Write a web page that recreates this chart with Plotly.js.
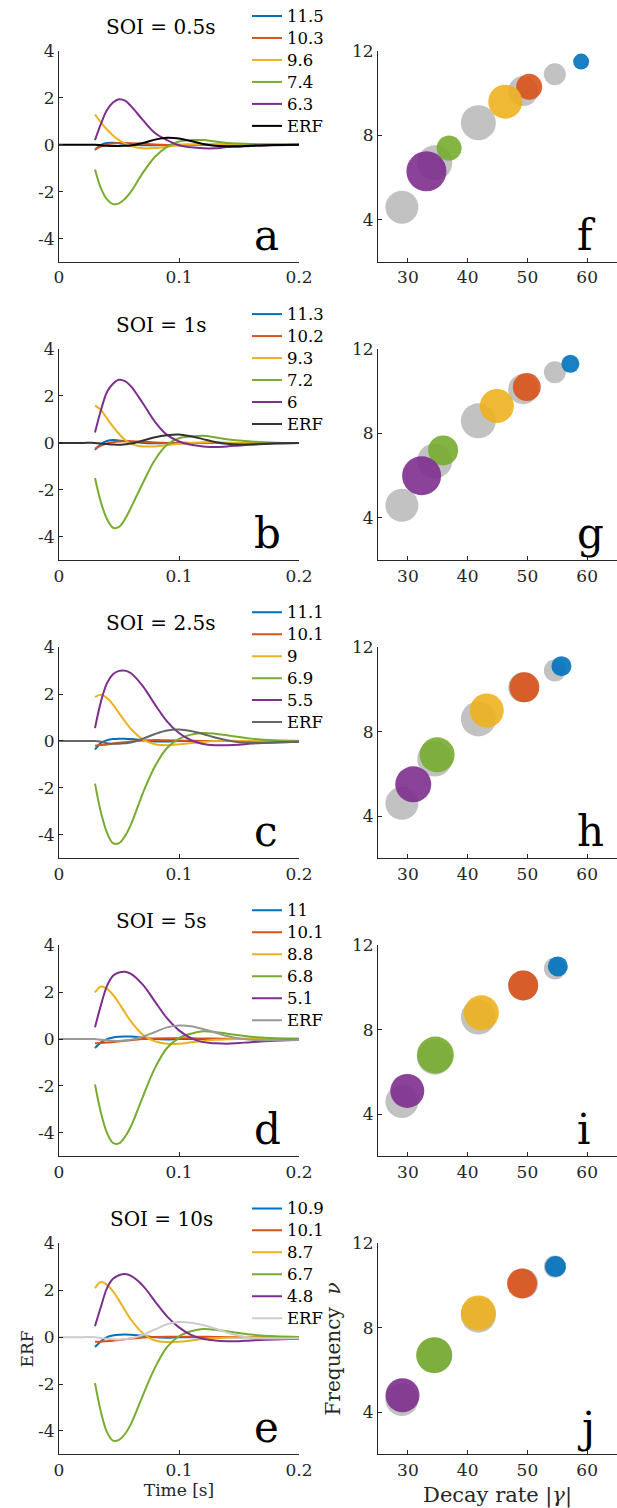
<!DOCTYPE html>
<html>
<head>
<meta charset="utf-8">
<script src="https://cdn.plot.ly/plotly-3.0.1.min.js"></script>
<style>
  html, body { margin: 0; padding: 0; background: #fff; }
  #chart { width: 617px; height: 1508px; }
</style>
</head>
<body>
<div id="chart"></div>
<script>
// ---- time bases (s) ----
const tMode = [0.03, 0.035, 0.04, 0.045, 0.05, 0.055, 0.06, 0.07, 0.08, 0.09, 0.1, 0.11, 0.12, 0.13, 0.14, 0.15, 0.16, 0.18, 0.2];
const tErf = [0, 0.01, 0.02].concat(tMode);

// ---- SOI labels ----
const soiLabels = ['SOI = 0.5s', 'SOI = 1s', 'SOI = 2.5s', 'SOI = 5s', 'SOI = 10s'];
const leftLetters = ['a', 'b', 'c', 'd', 'e'];
const rightLetters = ['f', 'g', 'h', 'i', 'j'];

// ---- axis tick labels ----
const erfTicks = [-4, -2, 0, 2, 4];
const erfTickText = ['-4', '-2', '0', '2', '4'];
const timeTicks = [0, 0.1, 0.2];
const decayTicks = [30, 40, 50, 60];
const freqTicks = [4, 8, 12];

// ---- mode frequencies (legend labels and bubble y) ----
const freqA = [11.5, 10.3, 9.6, 7.4, 6.3];
const freqB = [11.3, 10.2, 9.3, 7.2, 6];
const freqC = [11.1, 10.1, 9, 6.9, 5.5];
const freqD = [11, 10.1, 8.8, 6.8, 5.1];
const freqE = [10.9, 10.1, 8.7, 6.7, 4.8];

// ---- mode decay rates |gamma| (bubble x) ----
const decayA = [59.0, 50.3, 46.3, 36.9, 33.1];
const decayB = [57.2, 49.9, 44.9, 35.9, 32.3];
const decayC = [55.7, 49.5, 43.2, 34.9, 30.9];
const decayD = [55.1, 49.3, 42.3, 34.6, 29.9];
const decayE = [54.7, 49.1, 41.8, 34.4, 29.1];

// ---- mode amplitudes (bubble diameter) ----
const ampA = [16, 26, 34, 25, 40];
const ampB = [18, 28, 34, 30, 39];
const ampC = [20, 30, 34, 35, 36];
const ampD = [20, 30, 35, 37, 34];
const ampE = [21, 30, 35, 36, 34];

// ---- reference modes (grey bubbles) ----
const refDecay = [29, 34.5, 41.8, 49.3, 54.6];
const refFreq = [4.6, 6.7, 8.6, 10.1, 10.9];
const refAmp = [33, 35, 35, 30, 22];

// ---- mode time courses, SOI = 0.5s ----
const aM1 = [-0.22, 0.0, 0.08, 0.09, 0.07, 0.04, 0.01, -0.02, -0.02, -0.01, 0, 0, 0, 0, 0, 0, 0, 0, 0];
const aM2 = [-0.18, -0.08, 0.0, 0.05, 0.08, 0.08, 0.07, 0.04, 0.01, -0.01, -0.02, -0.01, 0, 0, 0, 0, 0, 0, 0];
const aM3 = [1.29, 0.95, 0.65, 0.4, 0.2, 0.06, -0.05, -0.15, -0.14, -0.08, -0.02, 0.01, 0.02, 0.01, 0, 0, 0, 0, 0];
const aM4 = [-1.05, -1.86, -2.33, -2.53, -2.5, -2.3, -2.0, -1.19, -0.51, -0.09, 0.14, 0.2, 0.2, 0.14, 0.08, 0.05, 0.03, 0.01, 0];
const aM5 = [0.2, 0.9, 1.48, 1.8, 1.94, 1.88, 1.65, 1.05, 0.5, 0.2, -0.02, -0.11, -0.15, -0.15, -0.1, -0.08, -0.05, -0.02, 0];
const aErf = [0, 0, 0, 0, -0.02, -0.04, -0.05, -0.05, -0.04, -0.03, 0.08, 0.22, 0.3, 0.27, 0.16, 0.03, -0.04, -0.06, -0.06, -0.04, -0.01, 0];

// ---- SOI = 1s ----
const bM1 = [-0.3, -0.05, 0.08, 0.12, 0.1, 0.08, 0.05, 0, -0.02, -0.01, 0, 0, 0, 0, 0, 0, 0, 0, 0];
const bM2 = [-0.25, -0.12, -0.02, 0.03, 0.06, 0.07, 0.07, 0.05, 0.02, 0, -0.02, -0.01, 0, 0, 0, 0, 0, 0, 0];
const bM3 = [1.6, 1.4, 1.04, 0.69, 0.38, 0.13, -0.04, -0.15, -0.15, -0.1, -0.04, 0, 0.03, 0.02, 0.01, 0, 0, 0, 0];
const bM4 = [-1.5, -2.55, -3.25, -3.62, -3.58, -3.25, -2.76, -1.7, -0.72, -0.08, 0.2, 0.27, 0.3, 0.24, 0.15, 0.1, 0.06, 0.01, 0];
const bM5 = [0.44, 1.4, 2.17, 2.52, 2.69, 2.63, 2.41, 1.68, 0.9, 0.34, 0.06, -0.08, -0.15, -0.18, -0.15, -0.11, -0.07, -0.02, 0];
const bErf = [0, 0, 0, 0, -0.03, -0.05, -0.07, -0.08, -0.06, -0.03, 0.1, 0.24, 0.33, 0.36, 0.28, 0.16, 0.04, -0.04, -0.07, -0.07, -0.03, -0.01];

// ---- SOI = 2.5s ----
const cM1 = [-0.37, -0.08, 0.03, 0.08, 0.1, 0.09, 0.08, 0.03, -0.02, -0.02, 0, 0, 0, 0, 0, 0, 0, 0, 0];
const cM2 = [-0.2, -0.17, -0.15, -0.11, -0.08, -0.05, -0.02, 0.02, 0.04, 0.03, 0.02, 0.01, 0, 0, 0, 0, 0, 0, 0];
const cM3 = [1.87, 1.97, 1.83, 1.55, 1.19, 0.84, 0.51, 0.06, -0.14, -0.18, -0.14, -0.09, -0.04, 0, 0.01, 0, 0, 0, 0];
const cM4 = [-1.82, -3.06, -3.91, -4.36, -4.36, -4.06, -3.56, -2.21, -1.08, -0.3, 0.09, 0.27, 0.34, 0.31, 0.24, 0.17, 0.1, 0.03, 0];
const cM5 = [0.55, 1.69, 2.47, 2.85, 2.99, 3.0, 2.89, 2.33, 1.55, 0.84, 0.34, 0.03, -0.13, -0.18, -0.18, -0.16, -0.11, -0.06, -0.03];
const cErf = [0, 0, 0, 0, -0.03, -0.1, -0.12, -0.12, -0.1, -0.07, 0.1, 0.3, 0.45, 0.49, 0.43, 0.3, 0.15, 0.03, -0.05, -0.07, -0.06, -0.03];

// ---- SOI = 5s ----
const dM1 = [-0.38, -0.14, 0, 0.07, 0.1, 0.11, 0.11, 0.06, 0, -0.02, 0, 0, 0, 0, 0, 0, 0, 0, 0];
const dM2 = [-0.18, -0.17, -0.15, -0.12, -0.1, -0.07, -0.05, 0, 0.02, 0.03, 0.03, 0.03, 0.02, 0.02, 0.01, 0.01, 0.01, 0.01, 0.01];
const dM3 = [1.99, 2.24, 2.14, 1.89, 1.53, 1.13, 0.75, 0.18, -0.1, -0.2, -0.2, -0.14, -0.09, -0.03, -0.01, 0, 0, 0, 0];
const dM4 = [-1.94, -3.15, -4.0, -4.43, -4.45, -4.17, -3.72, -2.44, -1.23, -0.38, 0.04, 0.23, 0.33, 0.3, 0.23, 0.16, 0.1, 0.03, 0];
const dM5 = [0.5, 1.46, 2.27, 2.7, 2.84, 2.87, 2.78, 2.31, 1.6, 0.89, 0.37, 0.04, -0.13, -0.18, -0.2, -0.17, -0.13, -0.07, -0.03];
const dErf = [0, 0, 0, 0, -0.03, -0.05, -0.07, -0.08, -0.06, -0.03, 0.1, 0.3, 0.5, 0.58, 0.55, 0.43, 0.28, 0.13, 0.03, -0.03, -0.05, -0.04];

// ---- SOI = 10s ----
const eM1 = [-0.42, -0.17, 0, 0.07, 0.1, 0.11, 0.1, 0.06, 0, -0.02, 0, 0, 0, 0, 0, 0, 0, 0, 0];
const eM2 = [-0.2, -0.19, -0.17, -0.15, -0.12, -0.09, -0.06, -0.01, 0.01, 0.02, 0.02, 0.02, 0.02, 0.01, 0.01, 0.01, 0.01, 0.01, 0.01];
const eM3 = [2.09, 2.35, 2.23, 1.95, 1.57, 1.14, 0.75, 0.16, -0.14, -0.21, -0.2, -0.14, -0.08, -0.04, -0.01, 0, 0, 0, 0];
const eM4 = [-1.96, -3.2, -4.05, -4.41, -4.38, -4.13, -3.7, -2.47, -1.3, -0.42, 0.04, 0.25, 0.35, 0.32, 0.25, 0.18, 0.11, 0.04, 0.01];
const eM5 = [0.47, 1.31, 2.09, 2.49, 2.64, 2.69, 2.61, 2.19, 1.53, 0.89, 0.42, 0.1, -0.07, -0.14, -0.17, -0.17, -0.14, -0.1, -0.07];
const eErf = [0, 0, 0, 0, -0.04, -0.07, -0.09, -0.1, -0.08, -0.05, 0.1, 0.33, 0.55, 0.65, 0.62, 0.52, 0.37, 0.2, 0.07, -0.02, -0.06, -0.05];

// ---- per-row groupings ----
const modeRows = [
  [aM1, aM2, aM3, aM4, aM5],
  [bM1, bM2, bM3, bM4, bM5],
  [cM1, cM2, cM3, cM4, cM5],
  [dM1, dM2, dM3, dM4, dM5],
  [eM1, eM2, eM3, eM4, eM5]
];
const erfRows = [aErf, bErf, cErf, dErf, eErf];
const freqRows = [freqA, freqB, freqC, freqD, freqE];
const decayRows = [decayA, decayB, decayC, decayD, decayE];
const ampRows = [ampA, ampB, ampC, ampD, ampE];

// ---- styling ----
const modeColors = ['#0072BD', '#D95319', '#EDB120', '#77AC30', '#7E2F8E'];
const erfColors = ['#000000', '#333333', '#666666', '#999999', '#cccccc'];
const greyBubble = '#bfbfbf';
const FONT = 'DejaVu Serif, Liberation Serif, serif';
const AX = '#262626';

const W = 617, H = 1508;
const ROW0 = 51, ROWSTEP = 298.1, PH = 211;
const py = px => 1 - px / H;

// legend rows are packed tighter than the label size; the label itself is set larger
const legendLabel = s => '<span style="font-size:16.5px">' + s + '</span>';

const traces = [];
const layout = {
  width: W, height: H,
  margin: {l: 0, r: 0, t: 0, b: 0},
  paper_bgcolor: '#fff', plot_bgcolor: '#fff',
  font: {family: FONT, color: AX, size: 16},
  showlegend: true,
  annotations: []
};

function axisBase(extra) {
  return Object.assign({
    showline: true, linecolor: AX, linewidth: 1,
    ticks: 'inside', ticklen: 4, tickcolor: AX, tickwidth: 1,
    showgrid: false, zeroline: false,
    tickfont: {family: FONT, size: 17, color: AX},
    fixedrange: true
  }, extra);
}

for (let r = 0; r < 5; r++) {
  const top = ROW0 + ROWSTEP * r;
  const bot = top + PH;
  const yDom = [py(bot), py(top)];
  const li = r + 1, ri = r + 6;
  const lx = 'x' + (li === 1 ? '' : li), ly = 'y' + (li === 1 ? '' : li);
  const rx = 'x' + ri, ry = 'y' + ri;
  const legId = r === 0 ? 'legend' : 'legend' + (r + 1);

  // left: mode time courses + ERF
  for (let m = 0; m < 5; m++) {
    traces.push({
      type: 'scatter', mode: 'lines', x: tMode, y: modeRows[r][m],
      xaxis: lx, yaxis: ly, name: legendLabel(String(freqRows[r][m])),
      line: {color: modeColors[m], width: 2, shape: 'spline', smoothing: 1},
      legend: legId, hoverinfo: 'skip'
    });
  }
  traces.push({
    type: 'scatter', mode: 'lines', x: tErf, y: erfRows[r],
    xaxis: lx, yaxis: ly, name: legendLabel('ERF'),
    line: {color: erfColors[r], width: 2, shape: 'spline', smoothing: 1},
    legend: legId, hoverinfo: 'skip'
  });

  // right: reference bubbles, then this SOI's modes
  traces.push({
    type: 'scatter', mode: 'markers', x: refDecay, y: refFreq,
    xaxis: rx, yaxis: ry, showlegend: false,
    marker: {size: refAmp, color: greyBubble, opacity: 0.95, line: {width: 0}},
    hoverinfo: 'skip'
  });
  traces.push({
    type: 'scatter', mode: 'markers', x: decayRows[r], y: freqRows[r],
    xaxis: rx, yaxis: ry, showlegend: false,
    marker: {size: ampRows[r], color: modeColors, opacity: 0.9, line: {width: 0}},
    hoverinfo: 'skip'
  });

  const lxKey = 'xaxis' + (li === 1 ? '' : li), lyKey = 'yaxis' + (li === 1 ? '' : li);
  layout[lxKey] = axisBase({domain: [59 / W, 299 / W], range: [0, 0.2], tickvals: timeTicks, ticktext: timeTicks.map(String), anchor: ly});
  layout[lyKey] = axisBase({domain: yDom, range: [-5, 4], tickvals: erfTicks, ticktext: erfTickText, anchor: lx});
  layout['xaxis' + ri] = axisBase({domain: [378 / W, 1], range: [25, 65], tickvals: decayTicks, ticktext: decayTicks.map(String), anchor: ry});
  layout['yaxis' + ri] = axisBase({domain: yDom, range: [2, 12], tickvals: freqTicks, ticktext: freqTicks.map(String), anchor: rx});

  layout[legId] = {
    x: 247 / W, xanchor: 'left', y: py(top - 51), yanchor: 'top',
    bgcolor: 'rgba(0,0,0,0)', borderwidth: 0,
    font: {family: FONT, size: 14.6, color: '#000'},
    tracegroupgap: 0, itemwidth: 30
  };

  layout.annotations.push({
    xref: 'paper', yref: 'paper', x: 161 / W, y: py(top - 24),
    xanchor: 'center', yanchor: 'middle', showarrow: false,
    text: soiLabels[r], font: {family: FONT, size: 20, color: '#000'}
  });
  layout.annotations.push({
    xref: 'paper', yref: 'paper', x: 252 / W, y: py(bot),
    xanchor: 'left', yanchor: 'bottom', showarrow: false,
    text: leftLetters[r], font: {family: FONT, size: 42, color: '#000'}
  });
  layout.annotations.push({
    xref: 'paper', yref: 'paper', x: 575 / W, y: py(bot),
    xanchor: 'left', yanchor: 'bottom', showarrow: false,
    text: rightLetters[r], font: {family: FONT, size: 42, color: '#000'}
  });
}

layout.xaxis5.title = {text: 'Time [s]', font: {family: FONT, size: 17, color: AX}, standoff: 5};
layout.yaxis5.title = {text: 'ERF', font: {family: FONT, size: 17, color: AX}, standoff: 0};
layout.xaxis10.title = {text: 'Decay rate |<i>γ</i>|', font: {family: FONT, size: 21, color: AX}, standoff: 8};
layout.yaxis10.title = {text: 'Frequency  <i>ν</i>', font: {family: FONT, size: 20, color: AX}, standoff: 5};

Plotly.newPlot('chart', traces, layout, {staticPlot: true, displayModeBar: false});
</script>
</body>
</html>
